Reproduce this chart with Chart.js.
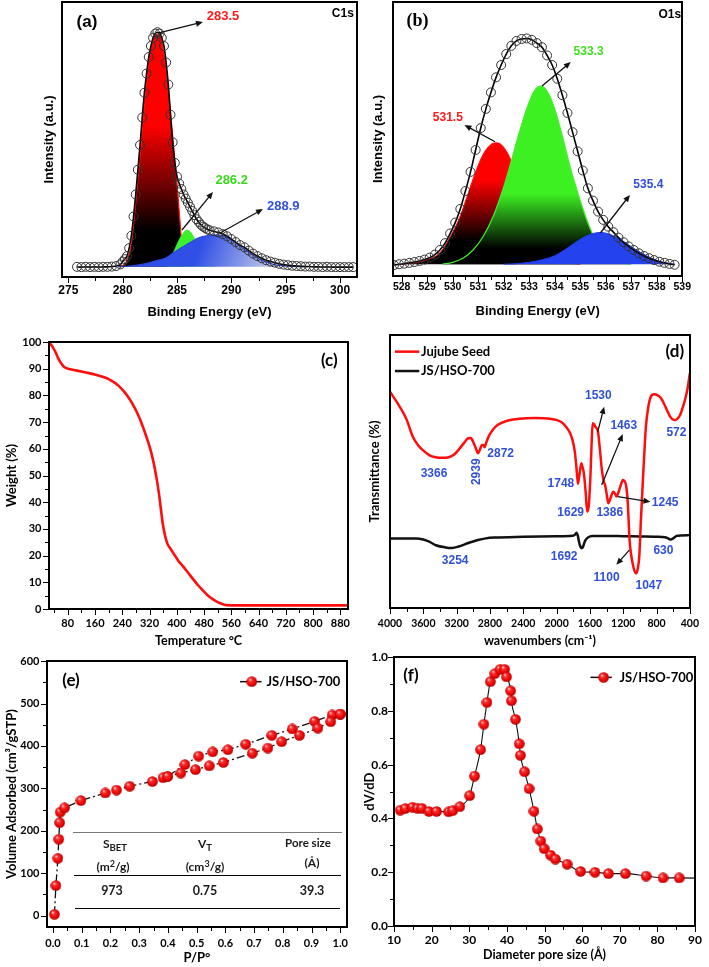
<!DOCTYPE html>
<html><head><meta charset="utf-8">
<script src="https://cdn.jsdelivr.net/npm/chart.js@4.4.1/dist/chart.umd.min.js"></script>
<style>
html,body{margin:0;padding:0;background:#fff;}
body{width:709px;height:967px;position:relative;overflow:hidden;}
canvas{position:absolute;z-index:1;}
.tb{position:absolute;z-index:3;font-family:Lato,"Open Sans",sans-serif;font-weight:bold;color:#1a1a1a;transform:translate(-50%,-50%);white-space:nowrap;line-height:1;}
.tb sub{font-size:0.8em;vertical-align:-0.35em;line-height:0;}
.tb sup{font-size:0.75em;vertical-align:0.45em;line-height:0;}
.hl{position:absolute;z-index:3;height:0;}
.fr{position:absolute;z-index:2;box-sizing:border-box;pointer-events:none;}
</style></head><body>
<div class="hl" style="left:73px;top:831.5px;width:269px;border-top:1.6px solid #7a7a7a"></div>
<div class="hl" style="left:74px;top:874.5px;width:267px;border-top:1px solid #000"></div>
<div class="hl" style="left:75px;top:908px;width:265px;border-top:1px solid #000"></div>
<div class="tb" style="left:115px;top:844px;font-size:12px">S<sub>BET</sub></div>
<div class="tb" style="left:205px;top:844px;font-size:12px">V<sub>T</sub></div>
<div class="tb" style="left:308px;top:843px;font-size:11.5px">Pore size</div>
<div class="tb" style="left:113px;top:867px;font-size:12px">(m<sup>2</sup>/g)</div>
<div class="tb" style="left:205px;top:867px;font-size:12px">(cm<sup>3</sup>/g)</div>
<div class="tb" style="left:312px;top:863px;font-size:12px">(Å)</div>
<div class="tb" style="left:112px;top:891px;font-size:12.5px">973</div>
<div class="tb" style="left:205px;top:891px;font-size:12.5px">0.75</div>
<div class="tb" style="left:312px;top:891px;font-size:12.5px">39.3</div>
<script>
// ---------------- DATA ----------------
// (a) C1s XPS
const aTicks = [275, 280, 285, 290, 295, 300];
const aEnergy = [275.8,276.2,276.6,277.0,277.4,277.8,278.2,278.6,279.0,279.4,279.8,
 280.0,280.2,280.4,280.6,280.8,281.0,281.2,281.4,281.6,281.8,282.0,282.2,282.4,282.6,282.8,283.0,283.2,283.4,283.6,283.8,
 284.0,284.2,284.4,284.6,284.8,285.0,285.2,285.4,285.6,285.8,286.0,286.2,286.4,286.6,286.8,287.0,287.2,287.4,287.6,287.8,288.0,
 288.4,288.8,289.2,289.6,290.0,290.4,290.8,291.2,291.6,292.0,292.4,292.8,293.2,293.6,294.0,294.4,294.8,295.2,295.6,296.0,
 296.4,296.8,297.2,297.6,298.0,298.4,298.8,299.2,299.6,300.0,300.4,300.8,301.2];
const aEnvelope = [3.7,3.6,3.7,3.6,3.7,3.6,3.7,3.7,3.8,4.0,4.6,
 5.6,6.5,7.6,10.5,15,22,30,39,48,58,67,74,80,84,87,88.5,89,88.5,87,84,
 78,70,59,49,41.5,36.5,34,32,30,28.5,27,25.5,24,22.5,21,20,19,18.3,17.8,17.3,17,
 16.6,16.2,15.6,14.8,13.8,12.7,11.6,10.8,9.6,8.5,7.6,6.8,6.1,5.6,5.2,4.8,4.5,4.3,4.1,4.0,
 3.9,3.8,3.8,3.7,3.7,3.6,3.7,3.6,3.6,3.6,3.6,3.6,3.6];
const aRedE = [279.6,280.0,280.4,280.8,281.2,281.6,282.0,282.4,282.8,283.2,283.5,283.8,284.1,284.4,284.7,285.0,285.3,285.5,285.7];
const aRedI = [3.7,4.2,6,12,27,44,63,78,86,88.3,87,81,72,60,47,34,19,9,4];
const aGreenE = [284.0,284.4,284.8,285.2,285.6,285.9,286.2,286.6,287.0,287.5,288.0,288.5];
const aGreenI = [5,7,10,13.5,16,17,16.5,14,11,7.5,5.5,4.3];
const aBlueE = [279.6,280.5,281.5,282.5,283.5,284.0,284.6,285.2,285.9,286.5,287.1,287.7,288.3,288.9,289.5,290.1,290.7,291.3,292.0,292.6,293.2,293.8,294.5,295.2,296.0,297.0];
const aBlueI = [3.7,3.9,4.4,5.2,6.3,7.0,8.6,10.2,11.8,13.2,14.4,15.0,15.3,15.2,14.7,13.4,11.6,9.8,8.0,6.5,5.5,4.7,4.2,3.9,3.8,3.7];

// (b) O1s XPS
const bTicks = [528, 529, 530, 531, 532, 533, 534, 535, 536, 537, 538, 539];
const bEnergy = [527.7,527.9,528.1,528.3,528.5,528.7,528.9,529.1,529.3,529.5,529.7,529.9,530.1,530.3,530.5,530.7,530.9,531.1,531.3,531.5,
 531.7,531.9,532.1,532.3,532.5,532.7,532.9,533.1,533.3,533.5,533.7,533.9,534.1,534.3,534.5,534.7,534.9,535.1,535.3,535.5,
 535.7,535.9,536.1,536.3,536.5,536.7,536.9,537.1,537.3,537.5,537.7,537.9,538.1,538.3,538.5,538.7];
const bEnvelope = [4.0,4.3,4.5,4.8,5.1,5.5,6.0,6.7,7.8,9.5,12,15.5,19.5,24.5,31,38,46,54,61,67,
 72.5,77,81,84,85.8,86.5,86.7,86.2,85,83.5,80.5,77,72,66,59.5,52.5,45.5,38.5,32,27.5,
 23.5,20.5,18,16,14,12.3,10.8,9.5,8.3,7.3,6.5,5.8,5.2,4.8,4.4,4.1];
const bRedE = [528.0,528.5,529.0,529.5,530.0,530.3,530.6,530.9,531.2,531.5,531.7,531.9,532.2,532.5,532.8,533.1,533.5,534.0,534.5,535.0];
const bRedI = [4.3,4.8,6,8.5,16,22,30,38,44.5,48,48.6,48,44,37,29,21,13,7.5,5,4.3];
const bGreenE = [529.6,530.0,530.4,530.8,531.2,531.6,532.0,532.3,532.6,532.9,533.2,533.45,533.7,534.0,534.3,534.6,534.9,535.2,535.5,535.8,536.2,536.6,537.0];
const bGreenI = [4.3,5,6.5,9.5,14.5,22,32.5,42,52,61,67.5,69.3,67.5,61,51,40,30.5,22,15,10,6.5,4.8,4.3];
const bBlueE = [532.0,532.5,533.0,533.5,534.0,534.5,535.0,535.4,535.8,536.2,536.6,537.0,537.4,537.8,538.2,538.7];
const bBlueI = [4.3,4.5,5,5.9,7.4,10.2,13.4,15.2,15.9,15.1,13.2,10.7,8.4,6.5,5.1,4.3];

// (c) TGA
const cXTicks = [80, 160, 240, 320, 400, 480, 560, 640, 720, 800, 880];
const cYTicks = [0, 10, 20, 30, 40, 50, 60, 70, 80, 90, 100];
const cTemp = [25,35,45,51,60,70.5,85,104,130,161.6,185,199.9,215,228.6,243,257.4,272,286.1,300,314.9,
 325,334.2,342,348.5,354,358.2,365,372.4,382,391.6,405,420.4,435,449.1,463,477.9,492,506.6,520,535.4,548,560,600,700,800,903];
const cWeight = [100,98.3,96,94.2,92.2,90.6,89.9,89.4,88.7,87.8,86.9,86.1,85,83.7,81.8,79.4,76.4,72.9,68.5,63,
 58.7,53.5,48,42.5,36.8,32.5,27.8,24.5,22.5,20.6,18,15.7,13.3,11,8.8,6.8,5,3.6,2.6,1.8,1.4,1.35,1.35,1.35,1.35,1.35];

// (d) FTIR
const dTicks = [4000, 3600, 3200, 2800, 2400, 2000, 1600, 1200, 800, 400];
const dRedWn = [4000,3883,3800,3726,3660,3609,3530,3452,3370,3296,3230,3178,3110,3061,3030,3002,2970,2944,2920,2897,
 2880,2865,2840,2806,2760,2709,2630,2553,2450,2357,2260,2161,2080,2004,1940,1887,1840,1809,1785,1770,
 1755,1743,1725,1703,1688,1672,1650,1632,1612,1594,1580,1567,1550,1535,1503,1480,1456,1435,1418,1400,
 1379,1350,1320,1300,1280,1240,1203,1185,1163,1145,1124,1105,1085,1065,1045,1025,1007,988,968,948,
 928,900,869,830,791,750,713,675,635,600,576,545,517,490,459,430,400];
const dRedT = [79.2,73.7,69,62.7,59.5,57.9,56,55.2,55,55.2,56.2,57.9,60.5,62.2,62.3,60.9,58.5,56.7,58,59.7,
 59.7,58.9,61,63.4,65.5,67,68.2,68.9,69.3,69.5,69.6,69.5,69.3,68.9,68,66.4,64.2,61.5,58,54.2,
 49,45.5,49,53,51.5,49.3,42,35.3,38,48.1,60,67.7,67.3,66.4,64.6,58,50.5,46.5,45,42,
 38.4,40.5,42.6,42,40.8,44,46.9,46.5,44.4,38.3,25,19.5,16,13.6,12.7,14.5,19,32,44.4,56,
 66.4,73.5,77.4,78.3,78,77,75,72.5,70,69,68.9,69.5,70.7,73,76.2,80,86];
const dBlkWn = [4000,3800,3687,3600,3530,3450,3334,3254,3178,3060,2944,2850,2748,2400,2000,1809,1775,1762,1745,1731,
 1715,1700,1685,1670,1653,1620,1574,1400,1200,1000,800,700,674,650,630,600,557,500,400];
const dBlkT = [25.5,25.5,25.5,25.1,24.3,23,22.2,22,22.5,23.8,24.9,25.5,25.8,26.1,26.3,26.5,27,27.6,26.5,24.3,
 22.5,21.9,22.3,23.6,24.9,25.9,26.4,26.4,26.3,26.2,26.1,25.9,25.7,25.3,25.1,25.5,26.4,26.6,26.7];

// (e) N2 isotherm
const eXTicks = [0, 0.1, 0.2, 0.3, 0.4, 0.5, 0.6, 0.7, 0.8, 0.9, 1.0];
const eYTicks = [0, 100, 200, 300, 400, 500, 600];
const eAdsP = [0.005,0.010,0.017,0.020,0.023,0.025,0.040,0.097,0.182,0.221,0.267,0.346,0.383,0.399,0.445,0.496,0.544,0.593,0.694,0.748,0.796,0.858,0.922,0.967,1.000];
const eAdsV = [3,71,135,180,219,244,254,271,289,296,305,316,325,328,336,344,353,361,383,395,410,425,442,457,475];
const eDesP = [1.000,0.972,0.911,0.833,0.762,0.671,0.609,0.556,0.507,0.459,0.399];
const eDesV = [475,473,458,440,425,404,391,386,376,356,328];

// (f) pore size distribution
const fXTicks = [10, 20, 30, 40, 50, 60, 70, 80, 90];
const fYTicks = [0, 0.2, 0.4, 0.6, 0.8, 1.0];
const fDiam = [11.65,13.0,14.9,16.2,17.4,19.3,21.3,24.5,25.6,27.5,30.1,31.4,33.0,33.9,34.7,35.6,36.8,38.2,39.4,39.9,
 41.0,41.2,42.3,43.3,43.6,44.7,45.9,47.2,48.1,49.0,49.9,51.6,52.9,56.0,59.6,63.4,67.0,71.5,77.0,81.5,85.8];
const fDvdd = [0.431,0.437,0.442,0.438,0.438,0.426,0.426,0.425,0.429,0.444,0.485,0.558,0.656,0.751,0.832,0.909,0.939,0.955,0.955,0.927,
 0.875,0.838,0.769,0.678,0.635,0.574,0.511,0.427,0.361,0.316,0.288,0.264,0.249,0.230,0.203,0.200,0.195,0.195,0.186,0.179,0.179];
const fTailD = [85.8, 90];
const fTailV = [0.179, 0.178];

// ---------------- HELPERS ----------------
const ARIAL = '"Liberation Sans", Arial, sans-serif';
const LATO = 'Lato, "Open Sans", sans-serif';
Chart.defaults.color = '#000';
Chart.defaults.font.family = LATO;

function zip(xs, ys) { return xs.map((x, i) => ({ x: x, y: ys[i] })); }

function makeBall(d) {
  const c = document.createElement('canvas'); c.width = d; c.height = d;
  const g = c.getContext('2d'); const r = d / 2;
  const grd = g.createRadialGradient(r * 0.65, r * 0.6, r * 0.05, r, r, r);
  grd.addColorStop(0, '#ffd0d0'); grd.addColorStop(0.3, '#ff2a2a'); grd.addColorStop(0.8, '#e00000'); grd.addColorStop(1, '#a00000');
  g.fillStyle = grd; g.beginPath(); g.arc(r, r, r - 0.2, 0, Math.PI * 2); g.fill();
  return c;
}
const BALL = makeBall(11);

function vGrad(chart, v1, c1, v2, c2) {
  if (!chart.chartArea) return c1;
  const y = chart.scales.y;
  const g = chart.ctx.createLinearGradient(0, y.getPixelForValue(v1), 0, y.getPixelForValue(v2));
  g.addColorStop(0, c1); g.addColorStop(1, c2); return g;
}
function dGrad(chart, x1, y1, c1, x2, y2, c2) {
  if (!chart.chartArea) return c1;
  const X = chart.scales.x, Y = chart.scales.y;
  const g = chart.ctx.createLinearGradient(X.getPixelForValue(x1), Y.getPixelForValue(y1), X.getPixelForValue(x2), Y.getPixelForValue(y2));
  g.addColorStop(0, c1); g.addColorStop(1, c2); return g;
}

function drawArrow(ctx, x1, y1, x2, y2, col) {
  const ang = Math.atan2(y2 - y1, x2 - x1), L = 7, W = 3;
  ctx.strokeStyle = col; ctx.fillStyle = col; ctx.lineWidth = 1.3; ctx.setLineDash([]);
  ctx.beginPath(); ctx.moveTo(x1, y1); ctx.lineTo(x2 - Math.cos(ang) * L * 0.7, y2 - Math.sin(ang) * L * 0.7); ctx.stroke();
  ctx.beginPath(); ctx.moveTo(x2, y2);
  ctx.lineTo(x2 - L * Math.cos(ang) + W * Math.sin(ang), y2 - L * Math.sin(ang) - W * Math.cos(ang));
  ctx.lineTo(x2 - L * Math.cos(ang) - W * Math.sin(ang), y2 - L * Math.sin(ang) + W * Math.cos(ang));
  ctx.closePath(); ctx.fill();
}

function drawNotes(chart, spec) {
  const { ctx, scales: { x, y } } = chart;
  const X = v => x.getPixelForValue(v), Y = v => y.getPixelForValue(v);
  ctx.save();
  ctx.setLineDash([]);
  (spec.segs || []).forEach(s => {
    ctx.strokeStyle = s.c; ctx.lineWidth = s.w;
    ctx.beginPath(); ctx.moveTo(X(s.x1), Y(s.y)); ctx.lineTo(X(s.x2), Y(s.y)); ctx.stroke();
  });
  (spec.balls || []).forEach(b => ctx.drawImage(BALL, X(b.x) - 5.5, Y(b.y) - 5.5));
  (spec.arrows || []).forEach(r => drawArrow(ctx, X(r[0]), Y(r[1]), X(r[2]), Y(r[3]), r[4] || '#111'));
  (spec.texts || []).forEach(t => {
    ctx.save();
    ctx.font = t.f; ctx.fillStyle = t.c || '#000';
    ctx.textAlign = t.al || 'center'; ctx.textBaseline = 'middle';
    ctx.translate(X(t.x), Y(t.y));
    if (t.rot) ctx.rotate(t.rot * Math.PI / 180);
    ctx.fillText(t.s, 0, 0);
    ctx.restore();
  });
  ctx.restore();
}

const panels = [];
function makeChart(G, datasets, xs, ys, spec) {
  const cv = document.createElement('canvas');
  const left = G.l - G.ml, top = G.t - G.pt;
  const W = G.r + G.pr - left, H = G.b + G.mb - top;
  cv.width = W; cv.height = H;
  cv.style.left = left + 'px'; cv.style.top = top + 'px';
  cv.style.width = W + 'px'; cv.style.height = H + 'px';
  document.body.appendChild(cv);
  const base = { type: 'linear', grid: { display: false, drawTicks: false, tickLength: 0 }, border: { display: false } };
  const tickSet = arr => (arr ? { afterBuildTicks: s => { s.ticks = arr.map(v => ({ value: v })); } } : {});
  const ch = new Chart(cv, {
    type: 'line',
    data: { datasets: datasets },
    options: {
      responsive: false, animation: false, events: [],
      layout: { autoPadding: false, padding: { top: G.pt, right: G.pr, left: 0, bottom: 0 } },
      plugins: { legend: { display: false }, tooltip: { enabled: false } },
      scales: {
        x: Object.assign({}, base, xs.cfg, tickSet(xs.ticks), { afterFit: s => { s.height = G.mb; } }),
        y: Object.assign({}, base, ys.cfg, tickSet(ys.ticks), { afterFit: s => { s.width = G.ml; } })
      }
    },
    plugins: [{ id: 'notes', afterDraw: c => drawNotes(c, spec) }]
  });
  panels.push({ chart: ch, spec: spec, ox: left, oy: top });
  return ch;
}
const fA = (s) => ({ family: ARIAL, size: s, weight: 'bold' });
const fL = (s) => ({ family: LATO, size: s, weight: 'bold' });
const str = v => String(v);
const fix1 = v => Number(v).toFixed(1);

// ---------------- (a) ----------------
makeChart({ l: 62, t: 2, r: 357, b: 277, ml: 20, pt: 2, pr: 4, mb: 43 }, [
  { data: zip(aEnergy, aEnvelope), borderColor: '#000', borderWidth: 1.6, pointRadius: 4.5, pointBorderColor: '#333', pointBorderWidth: 1,
    pointBackgroundColor: 'rgba(255,255,255,0)', fill: false, cubicInterpolationMode: 'monotone', order: 0 },
  { data: zip(aBlueE, aBlueI), borderColor: '#2a48e0', borderWidth: 1.2, pointRadius: 0, fill: { value: 3.7 },
    backgroundColor: c => dGrad(c.chart, 287.5, 15.5, '#2f4fe6', 295.5, 3.7, '#e6e6ea'), cubicInterpolationMode: 'monotone', order: 1 },
  { data: zip(aGreenE, aGreenI), borderColor: '#33ee22', borderWidth: 1, pointRadius: 0, fill: { value: 3.7 },
    backgroundColor: '#3cf02a', cubicInterpolationMode: 'monotone', order: 2 },
  { data: zip(aRedE, aRedI), borderColor: '#ff1010', borderWidth: 1.2, pointRadius: 0, fill: { value: 3.7 },
    backgroundColor: c => vGrad(c.chart, 55, '#ff0000', 17, '#000000'), cubicInterpolationMode: 'monotone', order: 3 }
], { ticks: aTicks, cfg: { min: 274.42, max: 301.56, ticks: { padding: 6, autoSkip: false, maxRotation: 0, font: fA(12), callback: str },
     title: { display: true, text: 'Binding Energy (eV)', font: fA(13), padding: 0 } } },
   { cfg: { min: 0, max: 100, ticks: { display: false }, title: { display: true, text: 'Intensity (a.u.)', font: fA(13), padding: 0 } } },
   { xMaj: 5, xMin: 2.5,
     arrows: [[283.25, 88.7, 287.39, 92.7], [285.46, 17.1, 288.31, 30.9], [288.96, 16.0, 292.91, 24.7]],
     texts: [
       { s: '(a)', x: 276.72, y: 92.7, f: 'bold 17px ' + ARIAL },
       { s: 'C1s', x: 300.26, y: 95.6, f: 'bold 12px ' + ARIAL },
       { s: '283.5', x: 289.23, y: 94.9, f: 'bold 13px ' + ARIAL, c: '#ff1a1a' },
       { s: '286.2', x: 290.03, y: 35.3, f: 'bold 13px ' + ARIAL, c: '#3ad81c' },
       { s: '288.9', x: 294.78, y: 25.5, f: 'bold 13px ' + ARIAL, c: '#2f4fe0' }
     ] });

// ---------------- (b) ----------------
makeChart({ l: 393, t: 2, r: 684, b: 276, ml: 22, pt: 2, pr: 12, mb: 43 }, [
  { data: zip(bEnergy, bEnvelope), borderColor: '#000', borderWidth: 1.6, pointRadius: 4.5, pointBorderColor: '#333', pointBorderWidth: 1,
    pointBackgroundColor: 'rgba(255,255,255,0)', fill: false, cubicInterpolationMode: 'monotone', order: 0 },
  { data: zip(bBlueE, bBlueI), borderColor: '#1f3ff0', borderWidth: 1, pointRadius: 0, fill: { value: 4.3 },
    backgroundColor: '#2442ee', cubicInterpolationMode: 'monotone', order: 1 },
  { data: zip(bGreenE, bGreenI), borderColor: '#44f02a', borderWidth: 1.2, pointRadius: 0, fill: { value: 4.3 },
    backgroundColor: c => vGrad(c.chart, 30, '#3cf022', 10, '#000000'), cubicInterpolationMode: 'monotone', order: 2 },
  { data: zip(bRedE, bRedI), borderColor: '#ff1010', borderWidth: 1, pointRadius: 0, fill: { value: 4.3 },
    backgroundColor: c => vGrad(c.chart, 35, '#ff0000', 13, '#000000'), cubicInterpolationMode: 'monotone', order: 3 }
], { ticks: bTicks, cfg: { min: 527.66, max: 539, ticks: { padding: 5, autoSkip: false, maxRotation: 0, font: fA(10.5), callback: str },
     title: { display: true, text: 'Binding Energy (eV)', font: fA(13), padding: 0 } } },
   { cfg: { min: 0, max: 100, ticks: { display: false }, title: { display: true, text: 'Intensity (a.u.)', font: fA(13), padding: 0 } } },
   { xMaj: 1, xMin: 0.5,
     arrows: [[533.5, 69.3, 534.63, 78.1], [531.66, 49.0, 530.46, 55.1], [535.79, 15.7, 536.95, 29.6]],
     texts: [
       { s: '(b)', x: 528.62, y: 92.8, f: 'bold 18px "Liberation Serif", serif' },
       { s: 'O1s', x: 538.51, y: 95.3, f: 'bold 12px ' + ARIAL },
       { s: '533.3', x: 535.33, y: 81.9, f: 'bold 12px ' + ARIAL, c: '#3ee01c' },
       { s: '531.5', x: 529.81, y: 57.6, f: 'bold 12px ' + ARIAL, c: '#ff1a1a' },
       { s: '535.4', x: 537.67, y: 33.2, f: 'bold 12px ' + ARIAL, c: '#2f4fe0' }
     ] });

// ---------------- (c) ----------------
makeChart({ l: 49, t: 336, r: 354, b: 609, ml: 45, pt: 8, pr: 4, mb: 39 }, [
  { data: zip(cTemp, cWeight), borderColor: '#ff0d0d', borderWidth: 2.6, pointRadius: 0, fill: false, cubicInterpolationMode: 'monotone' }
], { ticks: cXTicks, cfg: { min: 25, max: 903, ticks: { padding: 8, autoSkip: false, maxRotation: 0, font: fL(11), callback: str },
     title: { display: true, text: 'Temperature °C', font: fL(12.5), padding: 0 } } },
   { ticks: cYTicks, cfg: { min: 0, max: 100, ticks: { padding: 7.5, autoSkip: false, font: fL(11), callback: str },
     title: { display: true, text: 'Weight (%)', font: fL(13), padding: 0 } } },
   { xMaj: 80, xMin: 40, yMaj: 10, yMin: 5,
     texts: [{ s: '(c)', x: 847.7, y: 93, f: 'bold 17px ' + LATO }] });

// ---------------- (d) ----------------
const BL = 'bold 12px ' + ARIAL, BLUE = '#3050d8';
makeChart({ l: 390, t: 335, r: 697, b: 608, ml: 23, pt: 8, pr: 11, mb: 40 }, [
  { data: zip(dRedWn, dRedT), borderColor: '#ff0d0d', borderWidth: 2.5, pointRadius: 0, fill: false, cubicInterpolationMode: 'monotone', order: 0 },
  { data: zip(dBlkWn, dBlkT), borderColor: '#111', borderWidth: 2.5, pointRadius: 0, fill: false, cubicInterpolationMode: 'monotone', order: 1 }
], { ticks: dTicks, cfg: { min: 400, max: 4000, reverse: true, ticks: { padding: 9, autoSkip: false, maxRotation: 0, font: fL(10.5), callback: str },
     title: { display: true, text: 'wavenumbers (cm⁻¹)', font: fL(12.5), padding: 0 } } },
   { cfg: { min: 0, max: 100, ticks: { display: false }, title: { display: true, text: 'Transmittance (%)', font: fL(13), padding: 0 } } },
   { xMaj: 400, xMin: 200,
     segs: [{ x1: 3941, x2: 3648, y: 93.9, c: '#ff0d0d', w: 2.5 }, { x1: 3941, x2: 3648, y: 86.8, c: '#111', w: 2.5 }],
     arrows: [[1506, 64.6, 1429, 73.7], [1459, 45.1, 1206, 63.7], [1264, 40.8, 873, 38.9], [1127, 21.2, 1283, 15.8]],
     texts: [
       { s: 'Jujube Seed', x: 3628, y: 93.9, f: 'bold 13px ' + LATO, al: 'left' },
       { s: 'JS/HSO-700', x: 3628, y: 86.8, f: 'bold 13px ' + LATO, al: 'left' },
       { s: '(d)', x: 580, y: 93.9, f: 'bold 17px ' + LATO },
       { s: '3366', x: 3472, y: 49.1, f: BL, c: BLUE },
       { s: '2939', x: 2965, y: 49.9, f: BL, c: BLUE, rot: -90 },
       { s: '2872', x: 2671, y: 56.4, f: BL, c: BLUE },
       { s: '1748', x: 1948, y: 45.7, f: BL, c: BLUE },
       { s: '1530', x: 1499, y: 77.7, f: BL, c: BLUE },
       { s: '1463', x: 1194, y: 66.7, f: BL, c: BLUE },
       { s: '572', x: 561, y: 64.4, f: BL, c: BLUE },
       { s: '1629', x: 1831, y: 34.9, f: BL, c: BLUE },
       { s: '1386', x: 1362, y: 34.9, f: BL, c: BLUE },
       { s: '1245', x: 697, y: 38.6, f: BL, c: BLUE },
       { s: '3254', x: 3218, y: 17.3, f: BL, c: BLUE },
       { s: '1692', x: 1909, y: 18.8, f: BL, c: BLUE },
       { s: '630', x: 717, y: 21, f: BL, c: BLUE },
       { s: '1100', x: 1400, y: 11.2, f: BL, c: BLUE },
       { s: '1047', x: 893, y: 8.2, f: BL, c: BLUE }
     ] });

// ---------------- (e) ----------------
const dashDot = [8, 3, 2, 3];
makeChart({ l: 47, t: 655, r: 354, b: 927, ml: 43, pt: 8, pr: 4, mb: 39 }, [
  { data: zip(eAdsP, eAdsV), borderColor: '#111', borderWidth: 1.3, borderDash: dashDot, pointStyle: BALL, pointRadius: 5.5, fill: false, tension: 0 },
  { data: zip(eDesP, eDesV), borderColor: '#111', borderWidth: 1.3, borderDash: dashDot, pointStyle: BALL, pointRadius: 5.5, fill: false, tension: 0 }
], { ticks: eXTicks, cfg: { min: -0.021, max: 1.023, ticks: { padding: 10, autoSkip: false, maxRotation: 0, font: fL(11), callback: fix1 },
     title: { display: true, text: 'P/P°', font: fL(13), padding: 0 } } },
   { ticks: eYTicks, cfg: { min: -27, max: 600, ticks: { padding: 7.5, autoSkip: false, font: fL(11), callback: str },
     title: { display: true, text: 'Volume Adsorbed (cm³/gSTP)', font: fL(13), padding: 0 } } },
   { xMaj: 0.1, xMin: 0.05, yMaj: 100, yMin: 50,
     segs: [{ x1: 0.651, x2: 0.726, y: 551.5, c: '#111', w: 1.5 }],
     balls: [{ x: 0.692, y: 551.5 }],
     texts: [
       { s: '(e)', x: 0.0626, y: 553.8, f: 'bold 17px ' + LATO },
       { s: 'JS/HSO-700', x: 0.743, y: 551.5, f: 'bold 13px ' + LATO, al: 'left' }
     ] });

// ---------------- (f) ----------------
makeChart({ l: 394, t: 652, r: 702, b: 926, ml: 32, pt: 8, pr: 7, mb: 36 }, [
  { data: zip(fDiam, fDvdd), borderColor: '#111', borderWidth: 1.1, pointStyle: BALL, pointRadius: 5.5, fill: false, cubicInterpolationMode: 'monotone' },
  { data: zip(fTailD, fTailV), borderColor: '#111', borderWidth: 1.1, pointRadius: 0, fill: false }
], { ticks: fXTicks, cfg: { min: 10, max: 90, ticks: { padding: 7, autoSkip: false, maxRotation: 0, font: fL(12), callback: str },
     title: { display: true, text: 'Diameter pore size (Å)', font: fL(12.5), padding: 0 } } },
   { ticks: fYTicks, cfg: { min: 0, max: 1, ticks: { padding: 6, autoSkip: false, font: fL(12), callback: fix1 },
     title: { display: true, text: 'dV/dD', font: fL(13), padding: 0 } } },
   { xMaj: 10, xMin: 5, yMaj: 0.2, yMin: 0.1,
     segs: [{ x1: 62.2, x2: 67.9, y: 0.925, c: '#111', w: 1.5 }],
     balls: [{ x: 65.7, y: 0.925 }],
     texts: [
       { s: '(f)', x: 14.5, y: 0.931, f: 'bold 17px ' + LATO },
       { s: 'JS/HSO-700', x: 69.9, y: 0.925, f: 'bold 13px ' + LATO, al: 'left' }
     ] });

// ---------------- plot frames and tick marks, placed from each chart's own scales ----------------
(function () {
  function box(l, t, w, h, extra) {
    const d = document.createElement('div');
    d.className = 'fr';
    d.style.cssText += 'left:' + l + 'px;top:' + t + 'px;width:' + w + 'px;height:' + h + 'px;' + extra;
    document.body.appendChild(d);
  }
  panels.forEach(p => {
    const x = p.chart.scales.x, y = p.chart.scales.y, s = p.spec;
    const L = p.ox + Math.min(x.left, x.right), R = p.ox + Math.max(x.left, x.right);
    const T = p.oy + Math.min(y.top, y.bottom), B = p.oy + Math.max(y.top, y.bottom);
    const marks = (sc, maj, mn, horiz) => {
      const lo = Math.min(sc.min, sc.max), hi = Math.max(sc.min, sc.max);
      const start = Math.ceil(lo / mn - 1e-6);
      for (let k = start; k * mn <= hi + 1e-9; k++) {
        const v = k * mn, r = v / maj;
        const len = Math.abs(r - Math.round(r)) < 1e-6 ? 5 : 3;
        const px = Math.round(sc.getPixelForValue(v));
        if (horiz) box(p.ox + px, Math.round(B), 1, len + 1, 'background:#000;');
        else box(Math.round(L) - len - 1, p.oy + px, len + 1, 1, 'background:#000;');
      }
    };
    if (s.xMaj) marks(x, s.xMaj, s.xMin, true);
    if (s.yMaj) marks(y, s.yMaj, s.yMin, false);
    box(Math.round(L) - 1, Math.round(T) - 1, Math.round(R - L) + 2, Math.round(B - T) + 2, 'border:2px solid #000;');
  });
})();
</script>
</body></html>
